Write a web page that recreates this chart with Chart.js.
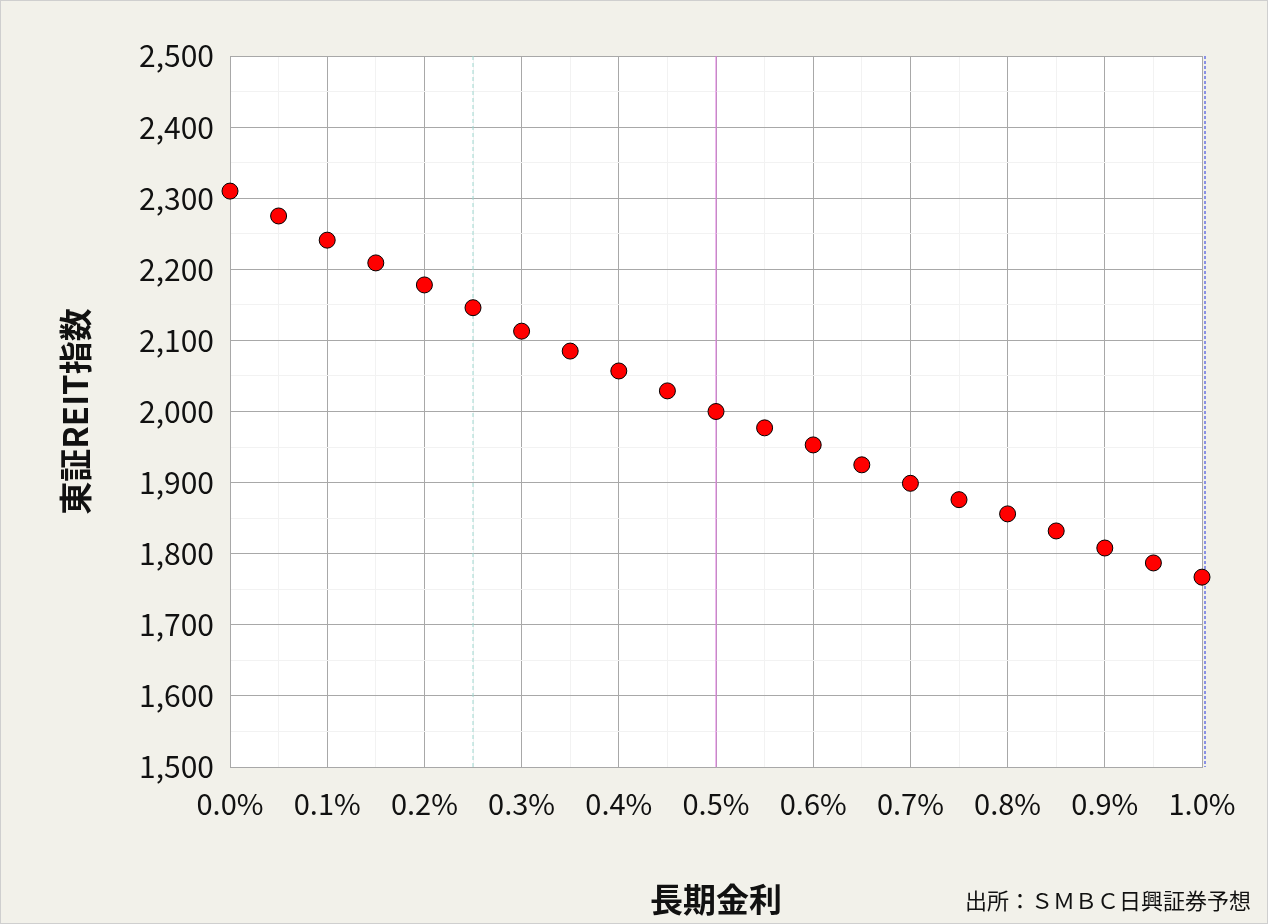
<!DOCTYPE html>
<html><head><meta charset="utf-8">
<script src="https://cdn.jsdelivr.net/npm/chart.js@4"></script>
<style>
html,body{margin:0;padding:0;background:#f2f1ea;}
#wrap{position:relative;width:1266px;height:922px;border:1px solid #cfcfcf;}
#src{position:absolute;right:16px;top:882px;font:22px "Noto Sans CJK JP";color:#111;}
</style></head><body>
<div id="wrap"><canvas id="c" width="1266" height="922"></canvas><div id="src">出所：ＳＭＢＣ日興証券予想</div></div>
<script>
const rates=[0,0.05,0.1,0.15,0.2,0.25,0.3,0.35,0.4,0.45,0.5,0.55,0.6,0.65,0.7,0.75,0.8,0.85,0.9,0.95,1.0];
const reit=[2310,2275,2241,2209,2178,2146,2113,2085,2057,2029,2000,1977,1953,1925,1899,1876,1856,1832,1808,1787,1767];
const refLines=[{x:0.25,color:'#9fd8d0',dash:[4,3]},{x:0.5,color:'#e070e0',dash:[]},{x:1.0,color:'#2030e0',dash:[3,2]}];
const F='"Noto Sans CJK JP"';
const lines={id:'lines',beforeDatasetsDraw(ch){const c=ch.ctx,xs=ch.scales.x,a=ch.chartArea;
 refLines.forEach(l=>{const px=xs.getPixelForValue(l.x)+(l.x===1?3:0);c.save();c.strokeStyle=l.color;c.lineWidth=1;c.setLineDash(l.dash);c.beginPath();c.moveTo(px,a.top);c.lineTo(px,a.bottom);c.stroke();c.restore();});}};
const bg={id:'bg',beforeDraw(ch){const a=ch.chartArea;ch.ctx.fillStyle='#fff';ch.ctx.fillRect(a.left,a.top,a.right-a.left,a.bottom-a.top);}};
new Chart(document.getElementById('c'),{type:'scatter',
data:{datasets:[{data:rates.map((r,i)=>({x:r,y:reit[i]})),backgroundColor:'#ff0000',borderColor:'#000',borderWidth:1,pointRadius:8,clip:false}]},
options:{responsive:false,animation:false,layout:{padding:{left:0,right:65,top:55,bottom:0}},
plugins:{legend:{display:false},tooltip:{enabled:false}},
scales:{
x:{type:'linear',min:0,max:1,afterFit(s){s.height=156;},
 ticks:{stepSize:0.05,autoSkip:false,maxRotation:0,padding:20,color:'#111',font:{family:F,size:29},callback:v=>Math.round(v*100)%10===0?v.toFixed(1)+'%':''},
 grid:{color:c=>Math.round(c.tick.value*100)%10===0?'#a8a8a8':'#f2f2f2',drawTicks:false},border:{color:'#a8a8a8'},
 title:{display:true,text:'長期金利',color:'#111',font:{family:F,size:33,weight:'bold'},padding:{top:22}}},
y:{min:1500,max:2500,afterFit(s){s.width=229;},
 ticks:{stepSize:50,autoSkip:false,padding:16,color:'#111',font:{family:F,size:30},callback:v=>v%100===0?v.toLocaleString('en-US'):''},
 grid:{color:c=>c.tick.value%100===0?'#a8a8a8':'#f2f2f2',drawTicks:false},border:{color:'#a8a8a8'},
 title:{display:true,text:'東証REIT指数',color:'#111',font:{family:F,size:33,weight:'bold'},padding:{top:55,bottom:20}}}}},
plugins:[bg,lines]});
</script></body></html>
